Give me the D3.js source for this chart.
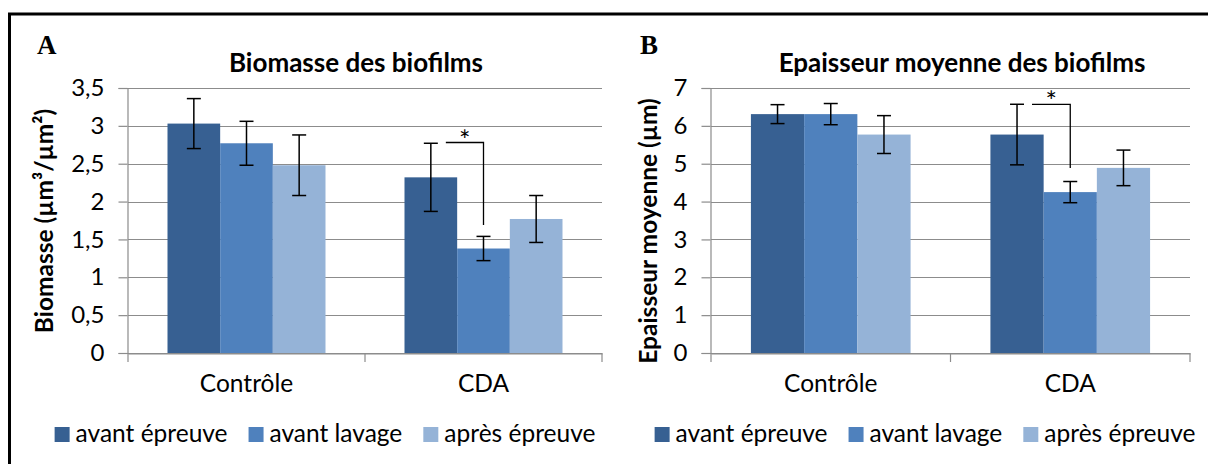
<!DOCTYPE html>
<html>
<head>
<meta charset="utf-8">
<script src="https://cdn.jsdelivr.net/npm/d3@7"></script>
<style>
  body { margin: 0; background: #fff; }
  svg { display: block; }
  text { font-family: Lato, "Noto Sans", sans-serif; fill: #000; }
</style>
</head>
<body>
<svg id="fig" width="1208" height="464"></svg>
<script>
// ---- data ----
const categories = ["Contrôle", "CDA"];
const seriesNames = ["avant épreuve", "avant lavage", "après épreuve"];
const seriesColors = ["#376092", "#4F81BD", "#95B3D7"];

// Panel A: biomass (µm³/µm²), rows = categories, columns = series
const biomassMean = [[3.03, 2.77, 2.48], [2.32, 1.38, 1.77]];
const biomassErr  = [[0.33, 0.29, 0.40], [0.45, 0.16, 0.31]];
const biomassTicks = [0, 0.5, 1, 1.5, 2, 2.5, 3, 3.5];
const biomassBracket = { cat: 1, from: 0, to: 1, top: 2.78, bottom: 1.69 };

// Panel B: mean thickness (µm)
const thicknessMean = [[6.31, 6.31, 5.77], [5.77, 4.25, 4.89]];
const thicknessErr  = [[0.25, 0.28, 0.50], [0.80, 0.28, 0.47]];
const thicknessTicks = [0, 1, 2, 3, 4, 5, 6, 7];
const thicknessBracket = { cat: 1, from: 0, to: 1, top: 6.57, bottom: 4.89 };

// ---- drawing ----
const svg = d3.select("#fig");
const frFormat = d3.formatLocale({ decimal: ",", thousands: " ", grouping: [3], currency: ["", " €"] }).format(".1~f");
const gridColor = "#8c8c8c";
const labelSize = 24.5;

// outer figure frame (left and top edges)
svg.append("path")
  .attr("d", "M9.5,464V14H1208")
  .attr("fill", "none").attr("stroke", "#000").attr("stroke-width", 3);

function panel(cfg) {
  const g = svg.append("g");
  const { x0, x1, y0, y1 } = cfg.plot;

  const y = d3.scaleLinear().domain([0, d3.max(cfg.ticks)]).range([y1, y0]);
  const x = d3.scaleBand().domain(categories).range([x0, x1])
    .paddingInner(1 / 3).paddingOuter(1 / 6);
  const xs = d3.scaleBand().domain(d3.range(seriesNames.length)).range([0, x.bandwidth()]);

  // gridlines
  g.append("g").selectAll("line").data(cfg.ticks).join("line")
    .attr("x1", x0).attr("x2", x1)
    .attr("y1", d => Math.round(y(d)) + 0.5).attr("y2", d => Math.round(y(d)) + 0.5)
    .attr("stroke", gridColor).attr("stroke-width", 1.2);

  // bars
  const rows = categories.map((c, i) => ({ c, i }));
  const grp = g.append("g").selectAll("g").data(rows).join("g")
    .attr("transform", d => `translate(${x(d.c)},0)`);
  const cells = d => cfg.mean[d.i].map((v, s) => ({ v, s, e: cfg.err[d.i][s] }));
  grp.selectAll("rect").data(cells).join("rect")
    .attr("x", d => xs(d.s)).attr("width", xs.bandwidth())
    .attr("y", d => y(d.v)).attr("height", d => y(0) - y(d.v))
    .attr("fill", d => seriesColors[d.s]);

  // error bars
  const eb = grp.selectAll("g.err").data(cells).join("g").attr("class", "err")
    .attr("transform", d => `translate(${xs(d.s) + xs.bandwidth() / 2},0)`)
    .attr("stroke", "#000").attr("stroke-width", 1.5);
  eb.append("line").attr("x1", 0).attr("x2", 0)
    .attr("y1", d => y(d.v + d.e)).attr("y2", d => y(d.v - d.e));
  eb.append("line").attr("x1", -7).attr("x2", 7)
    .attr("y1", d => y(d.v + d.e)).attr("y2", d => y(d.v + d.e));
  eb.append("line").attr("x1", -7).attr("x2", 7)
    .attr("y1", d => y(d.v - d.e)).attr("y2", d => y(d.v - d.e));

  // y axis
  const ya = g.append("g").attr("transform", `translate(${x0 - 0.5},0)`)
    .call(d3.axisLeft(y).tickValues(cfg.ticks).tickSize(9).tickPadding(14).tickFormat(frFormat));
  ya.select(".domain").attr("stroke", gridColor).attr("stroke-width", 1.2);
  ya.selectAll(".tick line").attr("stroke", gridColor).attr("stroke-width", 1.2);
  ya.selectAll(".tick text").attr("font-family", "Lato").attr("font-size", 24).attr("fill", "#000");

  // x axis: line, tick marks between categories, centred labels
  const xa = g.append("g").attr("transform", `translate(0,${y1 + 0.5})`)
    .call(d3.axisBottom(x).tickSize(0).tickPadding(21));
  xa.select(".domain").attr("stroke", gridColor).attr("stroke-width", 1.2);
  xa.selectAll(".tick text").attr("font-family", "Lato").attr("font-size", labelSize).attr("fill", "#000");
  const edges = d3.range(categories.length + 1).map(i => Math.min(x0 + i * x.step(), x1));
  g.append("g").selectAll("line").data(edges).join("line")
    .attr("x1", d => d).attr("x2", d => d)
    .attr("y1", y1).attr("y2", y1 + 9)
    .attr("stroke", gridColor).attr("stroke-width", 1.2);

  // significance bracket
  const b = cfg.bracket;
  const bx0 = x(categories[b.cat]) + xs(b.from) + xs.bandwidth() / 2 + 15;
  const bx1 = x(categories[b.cat]) + xs(b.to) + xs.bandwidth() / 2;
  g.append("path")
    .attr("d", `M${bx0},${y(b.top)}H${bx1}V${y(b.bottom)}`)
    .attr("fill", "none").attr("stroke", "#000").attr("stroke-width", 1.3);
  g.append("text").attr("x", (bx0 + bx1) / 2).attr("y", y(b.top) + 7)
    .attr("text-anchor", "middle").attr("font-size", 27).text("*");

  // titles
  g.append("text").attr("x", cfg.titleX).attr("y", 72)
    .attr("text-anchor", "middle").attr("font-weight", 700).attr("font-size", 26)
    .text(cfg.title);
  g.append("text").attr("x", cfg.letterX).attr("y", 54)
    .attr("font-weight", 700).attr("font-size", 27)
    .style("font-family", "'Liberation Serif', 'DejaVu Serif', serif")
    .text(cfg.letter);
  g.append("text")
    .attr("transform", `translate(${cfg.yTitleX},${cfg.yTitleY}) rotate(-90)`)
    .attr("text-anchor", "middle").attr("font-weight", 700).attr("font-size", 24.5)
    .text(cfg.yTitle);

  // legend, laid out left to right and centred
  const lg = g.append("g").attr("transform", "translate(0,442)");
  let cx = 0;
  const items = [];
  seriesNames.forEach((name, s) => {
    const it = lg.append("g");
    it.append("rect").attr("x", 0).attr("y", -15).attr("width", 15).attr("height", 15)
      .attr("fill", seriesColors[s]);
    const t = it.append("text").attr("x", 21).attr("y", 0).attr("font-size", labelSize).text(name);
    const w = 21 + t.node().getComputedTextLength();
    items.push({ it, cx, w });
    cx += w + 21;
  });
  const total = cx - 21;
  const start = cfg.legendX - total / 2;
  items.forEach(d => d.it.attr("transform", `translate(${start + d.cx},0)`));
}

panel({
  plot: { x0: 128, x1: 602, y0: 88, y1: 353 },
  ticks: biomassTicks, mean: biomassMean, err: biomassErr, bracket: biomassBracket,
  title: "Biomasse des biofilms", titleX: 356, letter: "A", letterX: 37,
  yTitle: "Biomasse (µm³/µm²)", yTitleX: 53, yTitleY: 221, legendX: 325
});
panel({
  plot: { x0: 711, x1: 1190, y0: 88, y1: 353 },
  ticks: thicknessTicks, mean: thicknessMean, err: thicknessErr, bracket: thicknessBracket,
  title: "Epaisseur moyenne des biofilms", titleX: 962, letter: "B", letterX: 640,
  yTitle: "Epaisseur moyenne (µm)", yTitleX: 657, yTitleY: 231, legendX: 925
});
</script>
</body>
</html>
